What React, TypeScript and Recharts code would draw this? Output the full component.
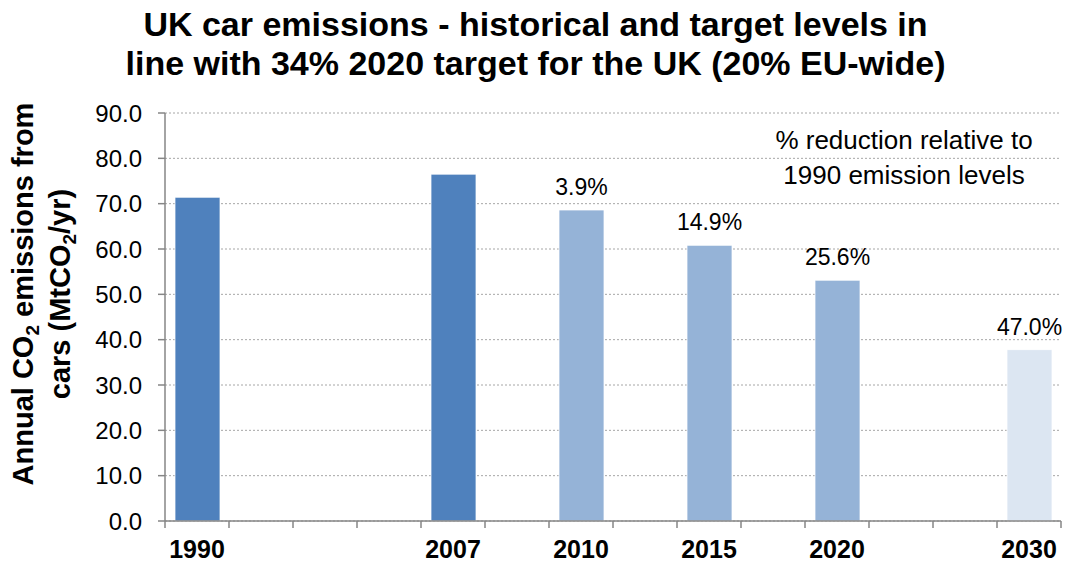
import React from 'react';
import { BarChart, Bar, XAxis, YAxis, CartesianGrid, Cell, LabelList } from 'recharts';

// one slot per x-axis interval; blank slots keep the original spacing
const yearLabels = ['1990', '', '', '', '2007', '', '2010', '', '2015', '', '2020', '', '', '2030'];
const emissions = [71.4, null, null, null, 76.5, null, 68.6, null, 60.8, null, 53.1, null, null, 37.8];
const reductions = ['', '', '', '', '', '', '3.9%', '', '14.9%', '', '25.6%', '', '', '47.0%'];
const kinds = ['actual', '', '', '', 'actual', '', 'target', '', 'target', '', 'target', '', '', 'longterm'];
const yTicks = [0, 10, 20, 30, 40, 50, 60, 70, 80, 90];

const colorByKind: Record<string, string> = {
  actual: '#4F81BD',
  target: '#95B3D7',
  longterm: '#DCE6F2',
};

const FONT = '"Liberation Sans", Arial, Helvetica, sans-serif';
const AXIS = '#868686';

const data = yearLabels.map((label, i) => ({
  slot: i,
  label,
  value: emissions[i],
  reduction: reductions[i],
  kind: kinds[i],
}));

const XTick = (props: any) => {
  const { x, y, payload, index } = props;
  const half = payload?.offset || 32;
  const label = yearLabels[payload?.value] ?? '';
  return (
    <g>
      <line x1={x - half} x2={x - half} y1={y} y2={y + 7} stroke={AXIS} strokeWidth={1.5} />
      {index === yearLabels.length - 1 && (
        <line x1={x + half} x2={x + half} y1={y} y2={y + 7} stroke={AXIS} strokeWidth={1.5} />
      )}
      <text x={x} y={y + 37} textAnchor="middle" fontFamily={FONT} fontSize={25} fontWeight="bold" fill="#000">
        {label}
      </text>
    </g>
  );
};

const YLabel = () => {
  const cy = 294;
  return (
    <g fontFamily={FONT} fontSize={29} fontWeight="bold" fill="#000">
      <text x={33} y={cy} textAnchor="middle" transform={`rotate(-90, 33, ${cy})`}>
        Annual CO<tspan fontSize={19} dy={6}>2</tspan>
        <tspan dy={-6}> emissions from</tspan>
      </text>
      <text x={70} y={cy} textAnchor="middle" transform={`rotate(-90, 70, ${cy})`}>
        cars (MtCO<tspan fontSize={19} dy={6}>2</tspan>
        <tspan dy={-6}>/yr)</tspan>
      </text>
    </g>
  );
};

const ReductionLabel = (props: any) => {
  const { x, y, width, value } = props;
  if (!value) return null;
  return (
    <text x={x + width / 2} y={y - 15} textAnchor="middle" fontFamily={FONT} fontSize={23} fill="#000">
      {value}
    </text>
  );
};

export default function App() {
  return (
    <div style={{ position: 'absolute', left: 0, top: 0, width: 1069, height: 563, background: '#fff', fontFamily: FONT }}>
      <div
        style={{
          position: 'absolute',
          left: 0,
          top: 5,
          width: 1071,
          textAlign: 'center',
          fontSize: 34,
          fontWeight: 'bold',
          lineHeight: '39px',
          color: '#000',
          whiteSpace: 'nowrap',
        }}
      >
        UK car emissions - historical and target levels in
        <br />
        line with 34% 2020 target for the UK (20% EU-wide)
      </div>
      <div
        style={{
          position: 'absolute',
          left: 734,
          top: 123,
          width: 340,
          textAlign: 'center',
          fontSize: 26,
          lineHeight: '35px',
          color: '#000',
          whiteSpace: 'nowrap',
        }}
      >
        % reduction relative to
        <br />
        1990 emission levels
      </div>
      <div style={{ position: 'absolute', left: 0, top: 0 }}>
        <BarChart
          width={1069}
          height={563}
          data={data}
          margin={{ top: 113, right: 8, bottom: 0, left: 0 }}
          barSize={45}
        >
          <CartesianGrid vertical={false} stroke="#A6A6A6" strokeDasharray="2 2" />
          <XAxis
            dataKey="slot"
            type="category"
            interval={0}
            height={42}
            tickSize={0}
            tickMargin={0}
            tickLine={false}
            axisLine={{ stroke: AXIS, strokeWidth: 1.5 }}
            tick={<XTick />}
          />
          <YAxis
            domain={[0, 90]}
            ticks={yTicks}
            width={165}
            tickSize={7}
            tickMargin={16}
            tickFormatter={(v: number) => v.toFixed(1)}
            tick={{ fontFamily: FONT, fontSize: 24, fill: '#000' }}
            tickLine={{ stroke: AXIS, strokeWidth: 1.5 }}
            axisLine={{ stroke: AXIS, strokeWidth: 1.5 }}
            label={<YLabel />}
          />
          <Bar dataKey="value" isAnimationActive={false} stroke="#FFFFFF" strokeWidth={0.75}>
            {data.map((d) => (
              <Cell key={d.slot} fill={colorByKind[d.kind] || '#4F81BD'} />
            ))}
            <LabelList dataKey="reduction" content={<ReductionLabel />} />
          </Bar>
        </BarChart>
      </div>
    </div>
  );
}
